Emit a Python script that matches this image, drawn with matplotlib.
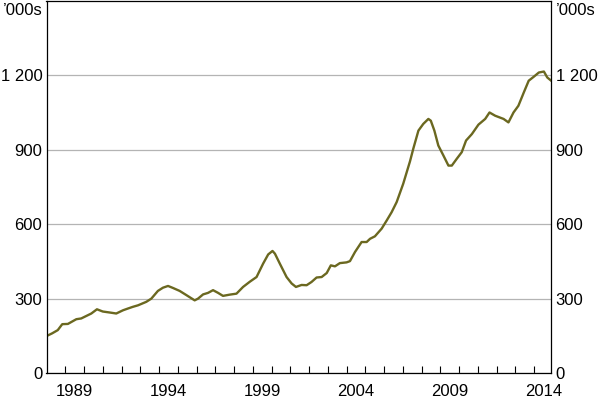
import matplotlib
matplotlib.use("Agg")
import matplotlib.pyplot as plt
from matplotlib.ticker import FixedLocator, FuncFormatter

plt.rcParams['font.family'] = ['Liberation Sans', 'DejaVu Sans']

dates = [1988.00, 1988.30, 1988.60, 1988.84, 1989.14, 1989.59, 1989.85, 1990.12, 1990.39, 1990.69,
         1991.00, 1991.37, 1991.72, 1992.08, 1992.34, 1992.61, 1992.88, 1993.32, 1993.59, 1993.94,
         1994.21, 1994.48, 1994.74, 1995.10, 1995.46, 1995.90, 1996.08, 1996.35, 1996.61, 1996.88,
         1997.15, 1997.41, 1997.77, 1998.13, 1998.48, 1998.84, 1999.20, 1999.55, 1999.82, 2000.05,
         2000.18, 2000.44, 2000.80, 2001.07, 2001.30, 2001.60, 2001.87, 2002.13, 2002.40, 2002.67,
         2002.94, 2003.16, 2003.38, 2003.64, 2004.00, 2004.18, 2004.45, 2004.80, 2005.07, 2005.25,
         2005.51, 2005.87, 2006.14, 2006.40, 2006.67, 2007.02, 2007.38, 2007.56, 2007.83, 2008.09,
         2008.36, 2008.49, 2008.68, 2008.89, 2009.16, 2009.43, 2009.61, 2009.87, 2010.14, 2010.37,
         2010.68, 2011.03, 2011.39, 2011.62, 2011.92, 2012.37, 2012.63, 2012.90, 2013.16, 2013.45,
         2013.71, 2013.98, 2014.25, 2014.52, 2014.70, 2014.91]
values = [149, 160, 173, 197, 198, 217, 220, 230, 240, 257,
          248, 244, 240, 253, 260, 267, 273, 287, 300, 331,
          344, 351, 343, 331, 314, 293, 300, 317, 323, 334,
          323, 311, 316, 320, 347, 368, 387, 441, 478, 492,
          481, 441, 387, 361, 347, 355, 354, 367, 385, 387,
          403, 434, 430, 443, 446, 451, 488, 528, 528, 541,
          551, 582, 615, 648, 689, 763, 853, 905, 977, 1004,
          1024, 1017, 977, 917, 877, 836, 836, 863, 890, 937,
          963, 1001, 1024, 1050, 1037, 1024, 1010, 1050, 1077, 1131,
          1178, 1194, 1211, 1215, 1191, 1178]

y_ticks = [0, 300, 600, 900, 1200]
x_label_years = [1989, 1994, 1999, 2004, 2009, 2014]
unit_label = "\u2019000s"

fig = plt.figure(figsize=(6, 3.99), dpi=100)
ax = fig.add_axes([0.0775, 0.065, 0.8415, 0.933])

ax.plot(dates, values, color='#6b6820', lw=1.7, solid_joinstyle='round')

ax.set_xlim(1988.0, 2014.92)
ax.set_ylim(0, 1500)

ax.yaxis.set_major_locator(FixedLocator(y_ticks))
ax.yaxis.set_major_formatter(FuncFormatter(lambda v, p: f"{int(v):,}".replace(",", " ")))
ax.grid(axis='y', color='#b4b4b4', lw=0.9)
ax.set_axisbelow(True)
ax.tick_params(axis='y', length=0, labelsize=12, pad=3, labelleft=True, labelright=True)

ax.xaxis.set_major_locator(FixedLocator(list(range(1989, 2015))))
ax.xaxis.set_minor_locator(FixedLocator([y + 0.5 for y in x_label_years]))
ax.xaxis.set_major_formatter(FuncFormatter(lambda v, p: ""))
ax.xaxis.set_minor_formatter(FuncFormatter(lambda v, p: str(int(v))))
ax.tick_params(axis='x', which='major', direction='in', length=5, width=0.8, color='black')
ax.tick_params(axis='x', which='minor', length=0, labelsize=12, pad=8)

for s in ax.spines.values():
    s.set_color('black')
    s.set_linewidth(0.9)

ax.text(-0.008, 1490, unit_label, transform=ax.get_yaxis_transform(), ha='right', va='top', fontsize=12)
ax.text(1.008, 1490, unit_label, transform=ax.get_yaxis_transform(), ha='left', va='top', fontsize=12)

fig.savefig('out.png', dpi=100)
